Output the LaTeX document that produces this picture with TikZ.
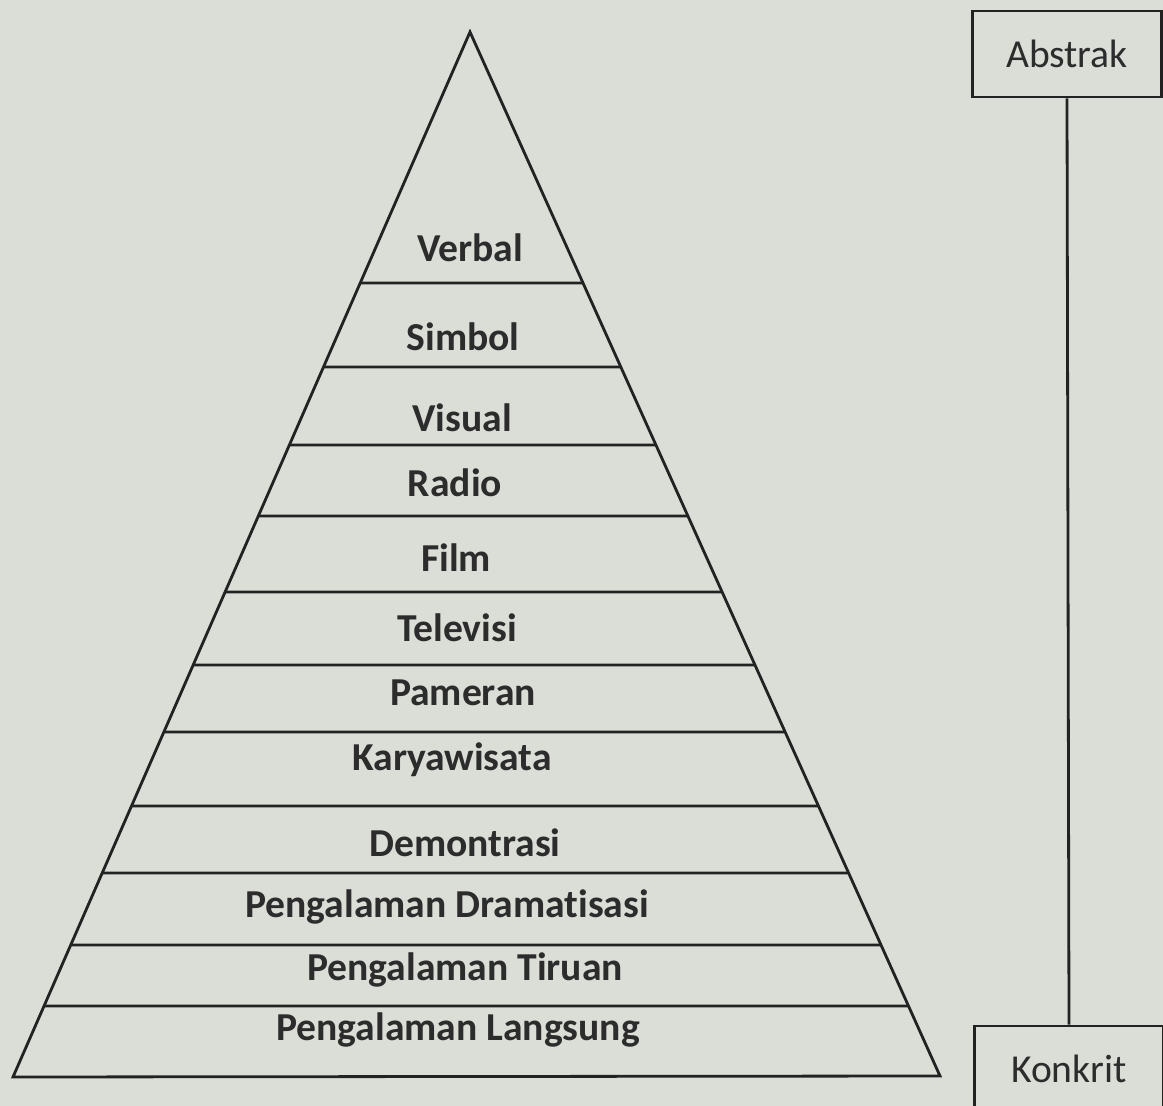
\documentclass[tikz,border=0pt]{standalone}
\usepackage{fontspec}
\setmainfont{Carlito}[Ligatures=NoCommon]
\usepackage{tikz}
\usetikzlibrary{positioning,calc}
\definecolor{pagebg}{HTML}{DADED7}
\definecolor{ink}{HTML}{222222}
\definecolor{textgray}{HTML}{2C2C2C}

\begin{document}
\begin{tikzpicture}[x=0.5pt, y=-0.5pt,
  every node/.style={font=\fontsize{19.8}{23}\selectfont, text=textgray},
  lvl/.style={font=\fontsize{19.8}{23}\selectfont\bfseries, text=textgray, inner sep=0pt},
  endbox/.style={draw=ink, line width=1.4pt, minimum width=94.5pt, minimum height=43pt, inner sep=0pt},
  edge/.style={draw=ink, line width=1.4pt}
]
  \useasboundingbox[fill=pagebg] (0,0) rectangle (1163,1106);
  \clip (0,0) rectangle (1163,1106);

  % pyramid
  \coordinate (top) at (470,32);
  \coordinate (bl) at (13,1077);
  \coordinate (br) at (940,1076);
  \draw[edge, line join=miter] (top) -- (bl) -- (br) -- cycle;
  \foreach \y in {283,367,445,516,592,665,732,806,873,945,1006}
    \draw[edge] ($(top)!{(\y-32)/1045}!(bl)$) -- ($(top)!{(\y-32)/1044}!(br)$);

  % levels
  \node[lvl] (verbal) at (470,248) {Verbal};
  \node[lvl] (simbol) at (463,337) {Simbol};
  \node[lvl] (visual) at (462,418) {Visual};
  \node[lvl] (radio) at (455,483) {Radio};
  \node[lvl] (film) at (456,558) {Film};
  \node[lvl] (tv) at (457,628) {Televisi};
  \node[lvl] (pameran) at (463,693) {Pameran};
  \node[lvl] (karya) at (452,760) {Karyawisata};
  \node[lvl] (demo) at (465,843) {Demontrasi};
  \node[lvl] (drama) at (447,907) {Pengalaman Dramatisasi};
  \node[lvl] (tiruan) at (465,970) {Pengalaman Tiruan};
  \node[lvl] (langsung) at (458,1030) {Pengalaman Langsung};

  % scale
  \node[endbox] (abs) at (1067,54) {Abstrak};
  \node[endbox] (konk) at (1069,1069) {Konkrit};
  \draw[edge] (abs.south) -- (konk.north);
\end{tikzpicture}
\end{document}
